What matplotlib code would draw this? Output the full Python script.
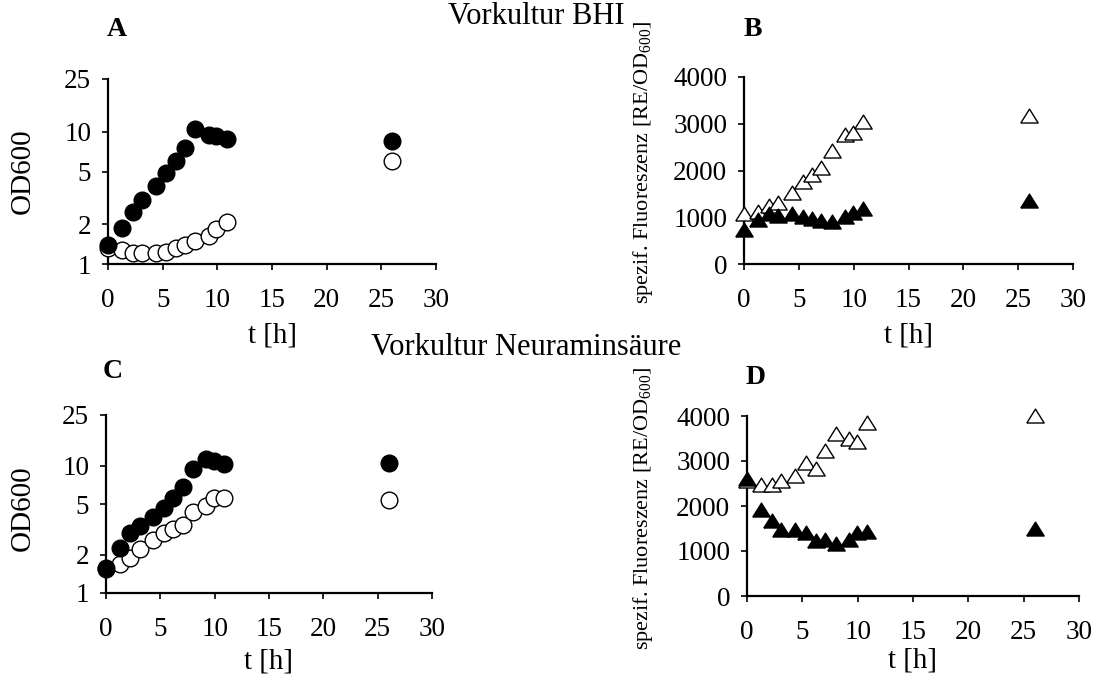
import matplotlib
matplotlib.use("Agg")
import matplotlib.pyplot as plt
from matplotlib.ticker import FixedLocator, FixedFormatter

plt.rcParams['font.family'] = ['Liberation Serif', 'DejaVu Serif']
plt.rcParams['mathtext.fontset'] = 'custom'
plt.rcParams['mathtext.rm'] = 'Liberation Serif'
plt.rcParams['mathtext.it'] = 'Liberation Serif:italic'

# Zeitpunkte (h)
t = [0, 1.25, 2.25, 3.1, 4.35, 5.35, 6.2, 7.05, 8.0, 9.2, 9.9, 10.85, 26.0]

# A: Vorkultur BHI, OD600
od_bhi_filled = [1.40, 1.86, 2.47, 3.06, 3.88, 4.9, 5.97, 7.54, 10.4, 9.4, 9.2, 8.87, 8.57]
od_bhi_open = [1.32, 1.27, 1.22, 1.22, 1.21, 1.24, 1.33, 1.38, 1.50, 1.64, 1.85, 2.07, 6.0]

# B: Vorkultur BHI, spezif. Fluoreszenz
fl_bhi_open = [1068, 1117, 1246, 1310, 1509, 1744, 1900, 2050, 2413, 2762, 2811, 3032, 3160]
fl_bhi_filled = [726, 940, 1068, 1032, 1068, 1011, 954, 925, 890, 996, 1082, 1174, 1352]

# C: Vorkultur Neuraminsäure, OD600
od_neu_filled = [1.57, 2.25, 2.95, 3.37, 3.94, 4.69, 5.55, 6.78, 9.38, 11.2, 10.9, 10.3, 10.45]
od_neu_open = [1.55, 1.69, 1.88, 2.23, 2.59, 2.95, 3.19, 3.43, 4.29, 4.84, 5.56, 5.62, 5.39]

# D: Vorkultur Neuraminsäure, spezif. Fluoreszenz
fl_neu_open = [2560, 2456, 2456, 2553, 2664, 2946, 2827, 3228, 3599, 3488, 3429, 3837, 4000]
fl_neu_filled = [2590, 1907, 1670, 1462, 1462, 1403, 1224, 1239, 1150, 1254, 1410, 1425, 1499]

W, H = 1099, 678
fig = plt.figure(figsize=(W / 100, H / 100), dpi=100)

# flaches Dreieck wie im Original
tri = [(-1, -0.75), (1, -0.75), (0, 0.85), (-1, -0.75)]


def add_ax(left, right, top, bottom):
    return fig.add_axes([left / W, (H - bottom) / H, (right - left) / W, (bottom - top) / H])


def style(ax, lpad=7):
    for s in ['top', 'right']:
        ax.spines[s].set_visible(False)
    for s in ['left', 'bottom']:
        ax.spines[s].set_linewidth(1.6)
    ax.set_xlim(0, 30)
    ax.set_xticks([0, 5, 10, 15, 20, 25, 30])
    ax.tick_params(axis='x', direction='out', length=4, width=1.2, pad=13, labelsize=19.5)
    ax.tick_params(axis='y', direction='out', length=4, width=1.2, pad=8, labelsize=19.5)
    ax.tick_params(which='minor', length=0)
    ax.set_xlabel('t [h]', fontsize=21, labelpad=lpad)
    ax.patch.set_alpha(0)


def od_panel(ax, filled, open_, lpad=7):
    style(ax, lpad)
    ax.set_yscale('log')
    ax.set_ylim(1, 25)
    ax.yaxis.set_major_locator(FixedLocator([1, 2, 5, 10, 25]))
    ax.yaxis.set_major_formatter(FixedFormatter(['1', '2', '5', '10', '25']))
    ax.yaxis.set_minor_locator(FixedLocator([]))
    ax.plot(t, open_, 'o', ms=12, mfc='white', mec='black', mew=1.0, clip_on=False, zorder=3)
    ax.plot(t, filled, 'o', ms=12, mfc='black', mec='black', clip_on=False, zorder=4)


def fl_panel(ax, open_, filled, lpad=7):
    style(ax, lpad)
    ax.set_ylim(0, 4000)
    ax.set_yticks([0, 1000, 2000, 3000, 4000])
    ax.plot(t, open_, ls='none', marker=tri, ms=12.5, mfc='white', mec='black', mew=1.0,
            clip_on=False, zorder=3)
    ax.plot(t, filled, ls='none', marker=tri, ms=12.5, mfc='black', mec='black',
            clip_on=False, zorder=4)


axA = add_ax(108, 436, 79, 264)
od_panel(axA, od_bhi_filled, od_bhi_open)
axB = add_ax(744, 1073, 77, 264)
fl_panel(axB, fl_bhi_open, fl_bhi_filled)
axC = add_ax(106, 432, 415, 593)
od_panel(axC, od_neu_filled, od_neu_open, lpad=5)
axD = add_ax(747, 1079, 416, 596)
fl_panel(axD, fl_neu_open, fl_neu_filled, lpad=2)

fig.text(23 / W, 1 - 171 / H, 'OD600', rotation=90, ha='center', va='center', fontsize=21)
fig.text(23 / W, 1 - 508 / H, 'OD600', rotation=90, ha='center', va='center', fontsize=21)

ylab = 'spezif. Fluoreszenz [RE/OD$_{600}$]'
fig.text(643 / W, 1 - 162 / H, ylab, rotation=90, ha='center', va='center', fontsize=16)
fig.text(643 / W, 1 - 508 / H, ylab, rotation=90, ha='center', va='center', fontsize=16)

fig.text(536 / W, 1 - 24 / H, 'Vorkultur BHI', ha='center', va='baseline', fontsize=22)
fig.text(526 / W, 1 - 355 / H, 'Vorkultur Neuraminsäure', ha='center', va='baseline', fontsize=22)

for lab, x, y in [('A', 117, 30), ('B', 753, 30), ('C', 113, 371), ('D', 756, 377)]:
    fig.text(x / W, 1 - y / H, lab, ha='center', va='center', fontsize=20, fontweight='bold')

fig.savefig('out.png', dpi=100)
